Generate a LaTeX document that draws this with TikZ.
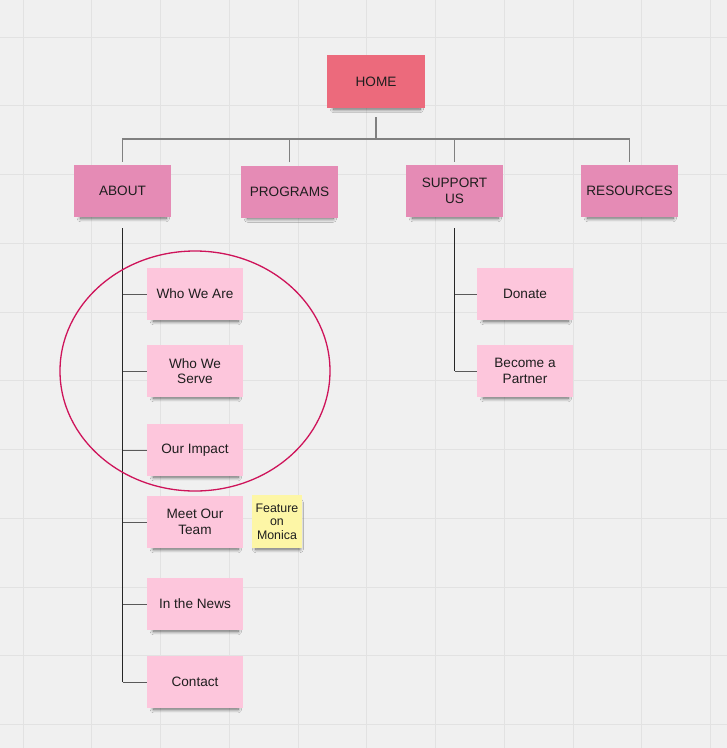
\documentclass[tikz,border=0pt]{standalone}
\usepackage{fontspec}
\setmainfont{Liberation Sans}
\usetikzlibrary{shadows.blur,shapes.geometric}
\definecolor{bgc}{HTML}{F0F0F0}
\definecolor{gridc}{HTML}{E2E2E2}
\definecolor{homec}{HTML}{EC6A7C}
\definecolor{topc}{HTML}{E58BB5}
\definecolor{subc}{HTML}{FDC6DC}
\definecolor{yelc}{HTML}{FDF6A6}
\definecolor{ringc}{HTML}{CE145A}
\definecolor{txtc}{HTML}{1E1E1E}
\begin{document}
\begin{tikzpicture}[x=1pt,y=-1pt,
  note/.style={minimum width=97pt, minimum height=52pt, align=center, inner sep=2pt,
    font=\fontsize{13.6}{15.5}\selectfont, text=txtc,
    blur shadow={shadow xshift=1pt, shadow yshift=-5pt, shadow opacity=60, shadow scale=0.88, shadow blur steps=10, shadow blur radius=4pt}},
  homenote/.style={note, fill=homec, minimum width=98pt, minimum height=53pt},
  topnote/.style={note, fill=topc},
  subnote/.style={note, fill=subc, minimum width=96pt},
  yelnote/.style={note, fill=yelc, minimum width=50pt, minimum height=53pt, font=\fontsize{12.4}{13.6}\selectfont},
  topline/.style={draw=black!50, line width=1.3pt},
  busline/.style={draw=black!85, line width=1.3pt},
  branch/.style={draw=black!65, line width=1pt},
  ring/.style={draw=ringc, line width=1.3pt}
]
\useasboundingbox (0,0) rectangle (727,748);
\fill[bgc] (0,0) rectangle (727,748);
\foreach \k in {0,...,10} {
  \draw[gridc, line width=0.9pt] (23+68.75*\k,0) -- (23+68.75*\k,748);
  \draw[gridc, line width=0.9pt] (0,37+68.75*\k) -- (727,37+68.75*\k);
}

% nodes
\node[homenote] (home) at (376,81.5) {HOME};
\node[topnote] (about) at (122.5,191) {ABOUT};
\node[topnote] (programs) at (289.5,191.5) {PROGRAMS};
\node[topnote] (support) at (454.5,191) {SUPPORT\\US};
\node[topnote] (resources) at (629.5,191) {RESOURCES};

\node[subnote] (whoare) at (195,294) {Who We Are};
\node[subnote] (whoserve) at (195,371) {Who We\\Serve};
\node[subnote] (impact) at (195,450) {Our Impact};
\node[subnote] (team) at (195,522) {Meet Our\\Team};
\node[subnote] (news) at (195,604) {In the News};
\node[subnote] (contact) at (195,682) {Contact};
\node[yelnote] (monica) at (277,521.5) {Feature\\on\\Monica};

\node[subnote] (donate) at (525,294) {Donate};
\node[subnote] (partner) at (525,371) {Become a\\Partner};

% top connectors
\coordinate (bus) at (376,139);
\draw[topline] ([yshift=-9pt]home.south) -- (bus);
\draw[topline] ([yshift=3pt]about.north) -- (about.north |- bus) -- (resources.north |- bus) -- ([yshift=3pt]resources.north);
\draw[topline] ([yshift=3pt]programs.north) -- (programs.north |- bus);
\draw[topline] ([yshift=3pt]support.north) -- (support.north |- bus);

% about bus
\draw[busline] ([yshift=-11pt]about.south) -- (about.south |- contact.west);
\foreach \n in {whoare,whoserve,impact,team,news,contact}
  \draw[branch] (about.south |- \n.west) -- (\n.west);

% support bus
\draw[busline] ([yshift=-11pt]support.south) -- (support.south |- partner.west);
\foreach \n in {donate,partner}
  \draw[branch] (support.south |- \n.west) -- (\n.west);

% highlight ring
\node[ring, ellipse, minimum width=270pt, minimum height=240pt, inner sep=0pt] (ringnode) at (195,371) {};
\end{tikzpicture}
\end{document}
